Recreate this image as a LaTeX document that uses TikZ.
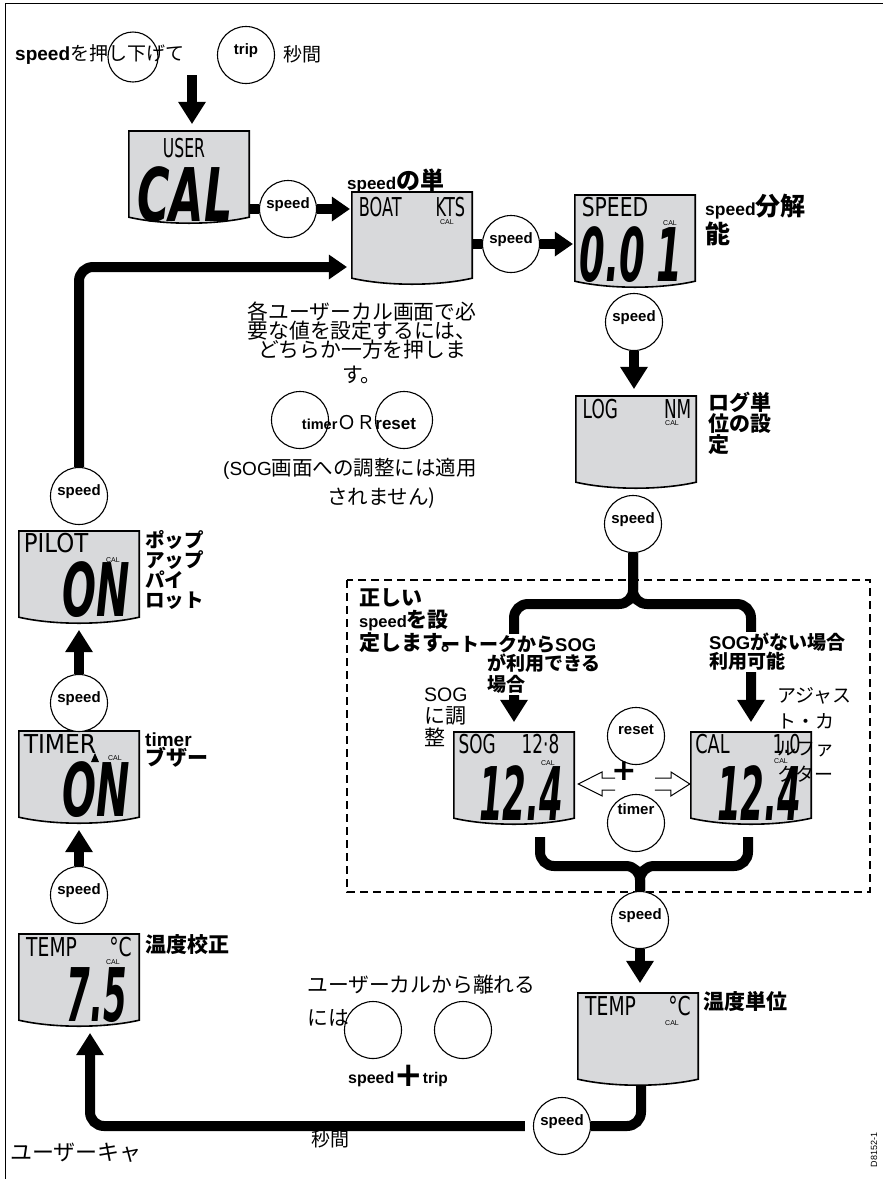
\documentclass[tikz,border=0pt]{standalone}
\usepackage{fontspec}
\usepackage{graphicx}
\setmainfont{Noto Sans CJK JP}
\newfontfamily\arial{Liberation Sans}
\newfontfamily\segfont{DejaVu Sans}
\usepackage{tikz}
\usetikzlibrary{arrows.meta,positioning,calc,backgrounds}
\definecolor{lcdgray}{RGB}{216,217,219}

% seven segment style read-outs
\newcommand{\segtop}[2][0.68]{\scalebox{#1}[1]{\segfont\fontsize{26}{26}\selectfont #2}}
\newcommand{\segbig}[2][0.55]{\scalebox{#1}[1]{\segfont\bfseries\itshape\fontsize{74}{74}\selectfont #2}}
\newcommand{\enw}[2]{{\arial\fontsize{#1}{#1}\selectfont #2}}
\newcommand{\tightlines}{\lineskiplimit-20pt\relax}
% display body with curved lower edge
\newcommand{\lcdframe}[1]{%
  \filldraw[fill=lcdgray,line width=1.6pt] (#1.north west) -- (#1.north east)
    -- ([yshift=6pt]#1.south east)
    .. controls ([shift={(-35pt,-2pt)}]#1.south east) and ([shift={(35pt,-2pt)}]#1.south west)
    .. ([yshift=6pt]#1.south west) -- cycle;
  \draw[line width=2.6pt] (#1.north west) -- (#1.north east);}

\begin{document}
\begin{tikzpicture}[x=1pt,y=-1pt,
  lcd/.style={rectangle,minimum width=120pt,minimum height=92pt,inner sep=0pt},
  btn/.style={circle,draw,line width=1.1pt,fill=white,minimum size=57pt,inner sep=0pt,
    text depth=12pt,font=\arial\bfseries\fontsize{15}{15}\selectfont},
  flow/.style={line width=10pt},
  bigtip/.tip={Triangle[width=28pt,length=22pt,line width=0pt]},
  midtip/.tip={Triangle[width=25pt,length=18pt,line width=0pt]},
  hollow/.style={draw,line width=1pt,fill=white,line join=miter},
  zone/.style={draw,line width=1.8pt,dash pattern=on 8pt off 5pt},
  txt/.style={inner sep=0pt,align=left,font=\fontsize{#1}{#1}\selectfont},
  hd/.style={inner sep=0pt,align=left,font=\bfseries\fontsize{#1}{#1}\selectfont},
  seg/.style={inner sep=0pt},
  calmark/.style={inner sep=0pt,font=\arial\fontsize{7}{7}\selectfont}]
  \useasboundingbox (0,0) rectangle (883,1179);
  \draw[line width=0.8pt] (883,3) -- (5,3) -- (5,1179);

  % displays
  \node[lcd] (usercal) at (189,177) {};
  \node[lcd] (boat) at (412,238) {};
  \node[lcd] (speedlcd) at (635,241) {};
  \node[lcd] (loglcd) at (636,442) {};
  \node[lcd] (pilot) at (79,577) {};
  \node[lcd] (timerlcd) at (79,777) {};
  \node[lcd] (temp1) at (79,980) {};
  \node[lcd] (temp2) at (638,1039) {};
  \node[lcd] (soglcd) at (514,778) {};
  \node[lcd] (callcd) at (751,778) {};
  \foreach \n in {usercal,boat,speedlcd,loglcd,pilot,timerlcd,temp1,temp2,soglcd,callcd}
    {\lcdframe{\n}}

  % read-outs
  \node[seg] (usertxt) at (184,148) {\segtop[0.6]{USER}};
  \node[seg] (caltxt) at (185,195) {\segbig[0.6]{CAL}};
  \node[seg] (boattxt) at (412,207) {\segtop[0.62]{BOAT\hspace{55pt}KTS}};
  \node[seg] (speedtxt) at (615,207) {\segtop[0.78]{SPEED}};
  \node[seg] (speedval) at (631,255) {\segbig[0.5]{0.0\hspace{23pt}1}};
  \node[seg] (logtxt) at (637,409) {\segtop[0.65]{LOG\hspace{71pt}NM}};
  \node[seg] (pilottxt) at (56,543) {\segtop[0.88]{PILOT}};
  \node[seg] (pilotval) at (96,590) {\segbig[0.54]{ON}};
  \node[seg] (timertxt) at (60,744) {\segtop[0.9]{TIMER}};
  \node[seg] (timerval) at (96,790) {\segbig[0.54]{ON}};
  \node[seg] (temp1txt) at (79,947) {\segtop[0.72]{TEMP\hspace{45pt}°C}};
  \node[seg] (temp1val) at (97,995) {\segbig[0.46]{7.5}};
  \node[seg] (temp2txt) at (638,1006) {\segtop[0.72]{TEMP\hspace{45pt}°C}};
  \node[seg] (sogtxt) at (509,744) {\segtop[0.65]{SOG\hspace{40pt}12·8}};
  \node[seg] (sogval) at (521,793) {\segbig[0.46]{12.4}};
  \node[seg] (caltop) at (748,744) {\segtop[0.68]{CAL\hspace{63pt}1.0}};
  \node[seg] (calval) at (759,793) {\segbig[0.46]{12.4}};
  \foreach \x/\y [count=\i] in {447/222,670/223,672/423,113/560,115/758,113/962,672/1023,548/763,781/761}
    \node[calmark] (calm\i) at (\x,\y) {CAL};
  \fill (91,762) -- (95,753) -- (99,762) -- cycle;

  % buttons
  \node[btn,fill=none,minimum size=50pt] (hold) at (133,57) {};
  \node[btn] (trip) at (246,55) {trip};
  \node[btn] (s1) at (288,209) {speed};
  \node[btn] (s2) at (511,244) {speed};
  \node[btn] (s3) at (634,322) {speed};
  \node[btn] (s4) at (633,524) {speed};
  \node[btn] (resetb) at (636,736) {reset};
  \node[btn,text depth=28pt] (timerb) at (636,823) {timer};
  \node[btn] (s5) at (640,920) {speed};
  \node[btn] (s6) at (562,1126) {speed};
  \node[btn] (s7) at (79,496) {speed};
  \node[btn] (s8) at (79,703) {speed};
  \node[btn] (s9) at (79,895) {speed};
  \node[btn] (orA) at (300,420) {};
  \node[btn] (orB) at (404,420) {};
  \node[btn] (exA) at (373,1030) {};
  \node[btn] (exB) at (463,1030) {};

  % flow
  \begin{scope}[on background layer]
    \draw[zone] (347,580) rectangle (870,892);
    \coordinate (entry) at (192,75);
    \draw[flow,-{bigtip},shorten >=7pt] (entry) -- (entry |- usercal.north);
    \draw[flow] (usercal.east |- s1) -- (s1);
    \draw[flow,-{midtip},shorten >=2pt] (s1) -- (s1 -| boat.west);
    \draw[flow] (boat.east |- s2) -- (s2);
    \draw[flow,-{midtip},shorten >=2pt] (s2) -- (s2 -| speedlcd.west);
    \draw[flow,-{bigtip},shorten >=7pt] (s3) -- (s3 |- loglcd.north);
    \coordinate (fork) at (633,604);
    \draw[flow,rounded corners=14pt,-{bigtip},shorten >=10pt] (s4) |- (fork -| soglcd) -- (soglcd.north);
    \draw[flow,rounded corners=14pt,-{bigtip},shorten >=10pt] (s4) |- (fork -| callcd) -- (callcd.north);
    \coordinate (merge) at (640,866);
    \draw[flow,rounded corners=14pt] ([shift={(26pt,-13pt)}]soglcd.south) |- (merge) -- (s5);
    \draw[flow,rounded corners=14pt] ([shift={(-3pt,-13pt)}]callcd.south) |- (merge) -- (s5);
    \draw[flow,-{bigtip},shorten >=10pt] (s5) -- (s5 |- temp2.north);
    \draw[flow,rounded corners=14pt,-{bigtip},shorten <=8pt,shorten >=7pt]
      ([xshift=3pt]temp2.south) |- (s6) -| ([xshift=11pt]temp1.south);
    \draw[flow,-{bigtip},shorten >=7pt] (s9) -- (timerlcd.south);
    \draw[flow,-{bigtip},shorten >=7pt] (s8) -- (pilot.south);
    \draw[flow,rounded corners=14pt,-{midtip},shorten >=5pt] (s7) |- ([yshift=-29pt]boat.west);
  \end{scope}

  % swap between SOG and CAL
  \coordinate (swap) at (636,784);
  \draw[hollow] ($(swap)+(-21,-6)$) -- ++(-13,0) -- ++(0,-6) -- ([xshift=4pt]soglcd.east |- swap)
    -- ++(24,12) -- ++(0,-6) -- ++(13,0);
  \draw[hollow] ($(swap)+(19,-6)$) -- ++(16,0) -- ++(0,-6) -- ([xshift=-1pt]callcd.west |- swap)
    -- ++(-19,12) -- ++(0,-6) -- ++(-16,0);
  \node[inner sep=0pt,font=\segfont\bfseries\fontsize{30}{30}\selectfont] (swapplus) at (624,771) {+};

  % labels
  \node[txt=19,anchor=west] (presslbl) at (15,54) {\textbf{\enw{19}{speed}}を押し下げて};
  \node[txt=19,anchor=west] (seclbl) at (283,54) {秒間};
  \node[hd=24,anchor=west] (unitlbl) at (347,181) {\enw{17}{speed}の単};
  \node[hd=25,anchor=north west,font=\bfseries\fontsize{25}{28}\selectfont] (reslbl) at (705,194) {\enw{17.5}{speed}分解\\能};
  \node[hd=21,anchor=north west] (loglbl) at (708,392) {ログ単\\位の設\\定};
  \node[hd=19.5,anchor=north west,font=\bfseries\fontsize{19.5}{20}\selectfont\tightlines] (pilotlbl) at (145,530) {ポップ\\アップ\\パイ\\ロット};
  \node[hd=21,anchor=north west,font=\bfseries\fontsize{21}{19}\selectfont\tightlines] (buzzlbl) at (145,733) {\enw{19}{timer}\\ブザー};
  \node[hd=21,anchor=west] (tcallbl) at (145,945) {温度校正};
  \node[hd=21,anchor=west] (tunitlbl) at (703,1001) {温度単位};
  \node[hd=19,anchor=west,fill=white,inner sep=1pt] (sogyes1) at (440,644) {ートークから\enw{18.5}{SOG}};
  \node[hd=19,anchor=north west,fill=white,inner sep=1pt,font=\bfseries\fontsize{19}{21}\selectfont] (sogyes2) at (486,653) {が利用できる\\場合};
  \node[hd=21,anchor=north west,font=\bfseries\fontsize{21}{22.5}\selectfont] (truelbl) at (359,588) {正しい\\\enw{16.5}{speed}を設\\定します。};
  \node[hd=19,anchor=north west,fill=white,inner sep=1pt] (sognolbl) at (708,632) {\enw{18.5}{SOG}がない場合\\利用可能};
  \node[txt=21,anchor=north west,font=\fontsize{21}{22}\selectfont] (soglbl) at (424,688) {\enw{19.5}{SOG}\\に調\\整};
  \node[txt=19,anchor=north west,font=\fontsize{19}{26.5}\selectfont] (adjlbl) at (777,687) {アジャス\\ト・カ\\ルファ\\クター};
  \node[txt=20.8,align=center,anchor=north,font=\fontsize{20.8}{19}\selectfont\tightlines] (hint) at (362,302)
    {各ユーザーカル画面で必\\要な値を設定するには、\\どちらか一方を押しま\\[6pt]す。};
  \node[txt=19] (orlbl) at (359,423) {\textbf{\enw{14.5}{timer}}ＯＲ\textbf{\enw{17}{reset}}};
  \node[txt=20.5,align=center,anchor=north,font=\fontsize{20.5}{29}\selectfont] (limitlbl) at (350,458)
    {\enw{19}{(SOG}画面への調整には適用\\\hspace*{63pt}されません)};
  \node[txt=20.8,anchor=north west,font=\fontsize{20.8}{33}\selectfont] (exitlbl) at (307,975) {ユーザーカルから離れる\\には};
  \node[inner sep=0pt] (keys) at (398,1076) {\textbf{\enw{16}{speed}}\raisebox{-3pt}{\segfont\bfseries\fontsize{34}{34}\selectfont +}\textbf{\enw{15.5}{trip}}};
  \node[txt=19,anchor=west] (sec2lbl) at (311,1139) {秒間};
  \node[txt=22,anchor=west] (modelbl) at (10,1153) {ユーザーキャ};
  \node[rotate=90,inner sep=0pt,font=\arial\fontsize{9}{9}\selectfont] (code) at (874,1150) {D8152-1};
\end{tikzpicture}
\end{document}
